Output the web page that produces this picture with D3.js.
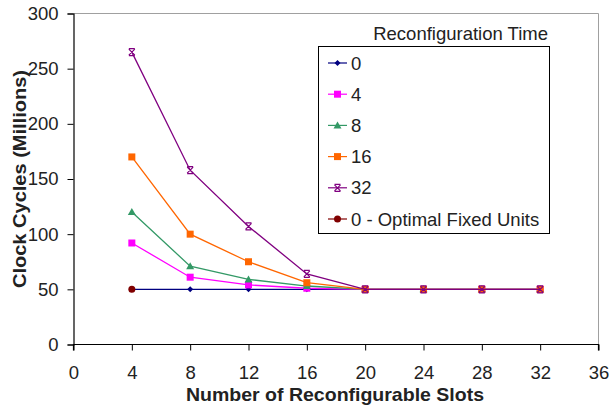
<!DOCTYPE html>
<html><head><meta charset="utf-8">
<script src="https://cdn.jsdelivr.net/npm/d3@7"></script>
<style>body{margin:0;background:#fff;} svg{display:block;font-family:"Liberation Sans",Arial,sans-serif;}</style>
</head><body>
<svg id="c" width="609" height="408"></svg>
<script>
const slots = [4, 8, 12, 16, 20, 24, 28, 32];
const rt0  = [50, 50, 50, 50, 50, 50, 50, 50];
const rt4  = [92, 61, 54, 51, 50, 50, 50, 50];
const rt8  = [120, 71, 59, 53, 50, 50, 50, 50];
const rt16 = [170, 100, 75, 56, 50, 50, 50, 50];
const rt32 = [265, 158, 107, 64, 50, 50, 50, 50];
const optSlots = [4];
const optFixed = [50];
const seriesNames = ["0", "4", "8", "16", "32", "0 - Optimal Fixed Units"];
const xTicks = [0, 4, 8, 12, 16, 20, 24, 28, 32, 36];
const yTicks = [0, 50, 100, 150, 200, 250, 300];

const series = [
  {name: seriesNames[0], xs: slots, ys: rt0, color: "#000080", marker: "diamond"},
  {name: seriesNames[1], xs: slots, ys: rt4, color: "#FF00FF", marker: "square"},
  {name: seriesNames[2], xs: slots, ys: rt8, color: "#339966", marker: "triangle"},
  {name: seriesNames[3], xs: slots, ys: rt16, color: "#FF6600", marker: "square"},
  {name: seriesNames[4], xs: slots, ys: rt32, color: "#800080", marker: "star"},
  {name: seriesNames[5], xs: optSlots, ys: optFixed, color: "#800000", marker: "circle"}
];

const svg = d3.select("#c");
const L = 73.5, R = 598.5, T = 13.5, B = 344.5;
const x = d3.scaleLinear().domain([0, 36]).range([L, R]);
const y = d3.scaleLinear().domain([0, 300]).range([B, T]);

// plot area border (gray)
svg.append("path").attr("d", `M${L},${T}H${R}V${B}`).attr("fill","none").attr("stroke","#a0a0a0").attr("stroke-width",1);

const gx = svg.append("g").attr("transform",`translate(0,${B})`)
  .call(d3.axisBottom(x).tickValues(xTicks).tickSize(6).tickPadding(15).tickFormat(d3.format("d")));
const gy = svg.append("g").attr("transform",`translate(${L},0)`)
  .call(d3.axisLeft(y).tickValues(yTicks).tickSize(6).tickPadding(9).tickFormat(d3.format("d")));
[gx, gy].forEach(g => {
  g.select(".domain").attr("stroke","#000").attr("stroke-width",1.2);
  g.selectAll(".tick line").attr("stroke","#000");
  g.selectAll("text").attr("font-size","18.5px").attr("fill","#222").attr("font-family","\"Liberation Sans\",Arial,sans-serif");
});
gx.select(".domain").attr("d", `M${L},6V0H${R}V6`);

svg.append("text").attr("x", 186).attr("y", 401)
  .attr("textLength", 298).attr("lengthAdjust","spacingAndGlyphs")
  .attr("font-weight","bold").attr("font-size","18.5px").attr("fill","#222").text("Number of Reconfigurable Slots");
svg.append("text").attr("transform",`translate(26,288) rotate(-90)`)
  .attr("textLength", 218).attr("lengthAdjust","spacingAndGlyphs")
  .attr("font-weight","bold").attr("font-size","18.5px").attr("fill","#222").text("Clock Cycles (Millions)");

function drawMarker(g, type, cx, cy, color) {
  if (type === "diamond") {
    g.append("path").attr("d", `M${cx},${cy-3}L${cx+3},${cy}L${cx},${cy+3}L${cx-3},${cy}Z`).attr("fill", color);
  } else if (type === "square") {
    g.append("rect").attr("x", cx-3.5).attr("y", cy-3.5).attr("width",7).attr("height",7).attr("fill", color);
  } else if (type === "triangle") {
    g.append("path").attr("d", `M${cx},${cy-4}L${cx+4},${cy+3}L${cx-4},${cy+3}Z`).attr("fill", color);
  } else if (type === "star") {
    g.append("path").attr("d", `M${cx-3},${cy-3}L${cx+3},${cy+3}M${cx+3},${cy-3}L${cx-3},${cy+3}M${cx-3},${cy-3.5}H${cx+3}M${cx-3},${cy+3.5}H${cx+3}`)
      .attr("stroke", color).attr("stroke-width",1.2).attr("fill","none");
  } else if (type === "circle") {
    g.append("circle").attr("cx", cx).attr("cy", cy).attr("r", 3.5).attr("fill", color);
  }
}

const line = d3.line().x(d => x(d[0])).y(d => y(d[1]));
series.forEach(s => {
  const pts = s.xs.map((v,i) => [v, s.ys[i]]);
  const g = svg.append("g");
  g.append("path").attr("d", line(pts)).attr("fill","none").attr("stroke", s.color).attr("stroke-width",1.3);
  pts.forEach(p => drawMarker(g, s.marker, x(p[0]), y(p[1]), s.color));
});

// legend
const lg = svg.append("g");
lg.append("text").attr("x", 548).attr("y", 40).attr("text-anchor","end").attr("font-size","18.5px").attr("fill","#222").text("Reconfiguration Time");
lg.append("rect").attr("x", 318.5).attr("y", 46.5).attr("width", 231).attr("height", 187).attr("fill","#fff").attr("stroke","#000").attr("stroke-width",1);
series.forEach((s,i) => {
  const cy = 63 + i*31.2;
  lg.append("line").attr("x1",328).attr("x2",347).attr("y1",cy).attr("y2",cy).attr("stroke", s.color).attr("stroke-width",1.2);
  drawMarker(lg, s.marker, 337.5, cy, s.color);
  lg.append("text").attr("x", 351).attr("y", cy+6.5).attr("font-size","18.5px").attr("fill","#222").text(s.name);
});
</script>
</body></html>
